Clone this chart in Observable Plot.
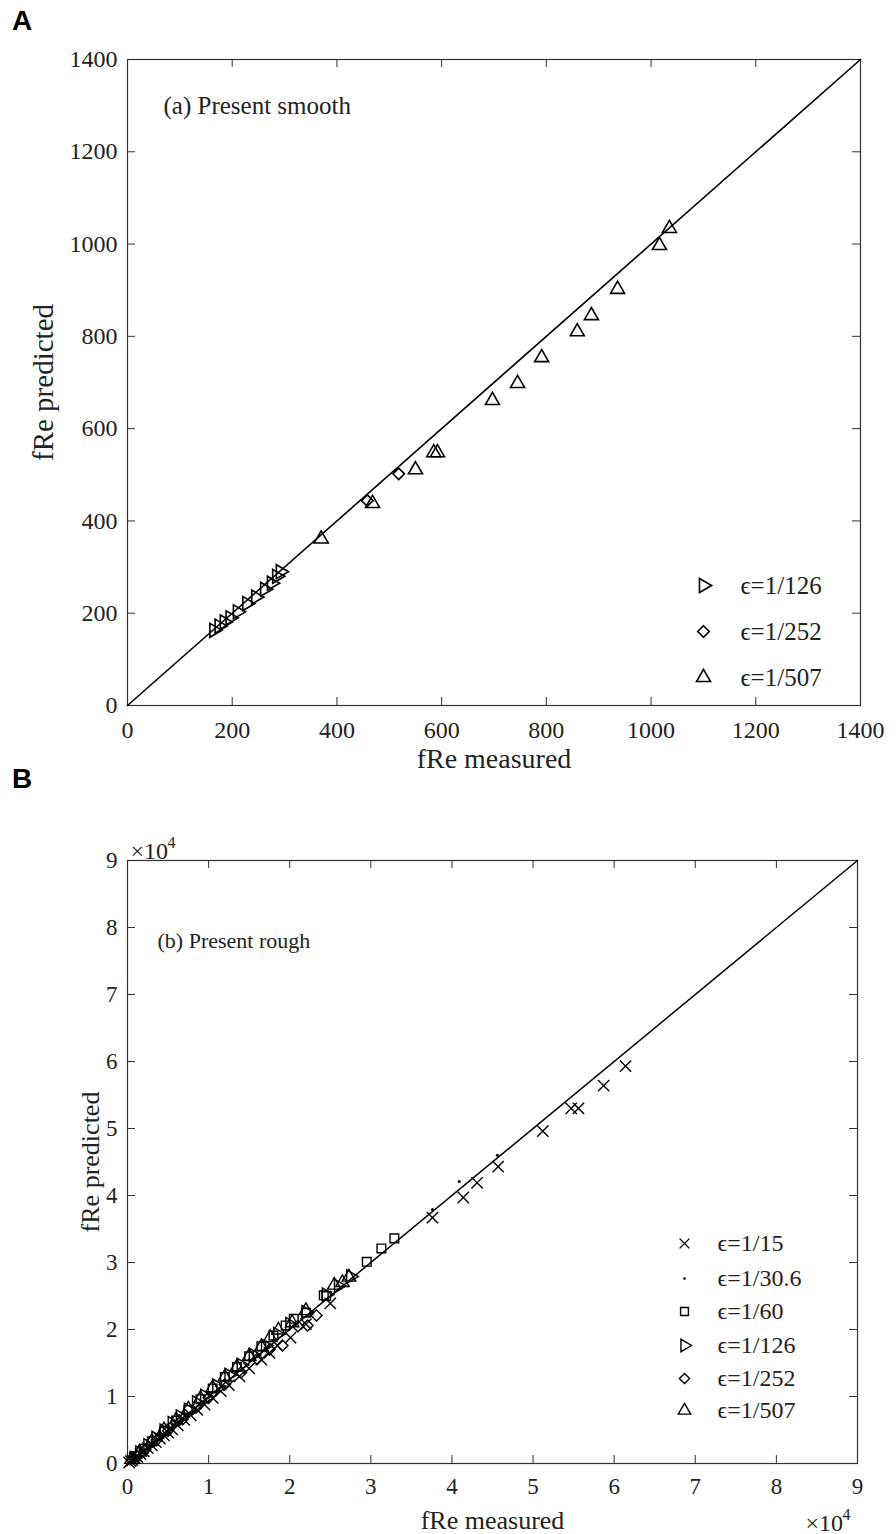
<!DOCTYPE html>
<html><head><meta charset="utf-8">
<script src="https://cdn.jsdelivr.net/npm/d3@7"></script>
<script src="https://cdn.jsdelivr.net/npm/@observablehq/plot@0.6"></script>
<style>
body{margin:0;background:#fff;}
#wrap{position:relative;width:896px;height:1534px;background:#fff;}
.panel{position:absolute;left:0;}
.lab{position:absolute;z-index:5;font-family:"Liberation Sans",Arial,sans-serif;font-weight:bold;font-size:28px;line-height:28px;color:#000;}
</style></head><body>
<div id="wrap">
<div id="pa" class="panel" style="top:0"></div>
<div id="pb" class="panel" style="top:780px"></div>
<div class="lab" style="left:12px;top:7px">A</div>
<div class="lab" style="left:12px;top:765px">B</div>
</div>
<script>
// ---------- Panel A data (smooth) ----------
const a126x = [165, 175, 185, 196, 210, 228, 245, 262, 275, 285, 292];
const a126y = [163, 172, 181, 190, 203, 221, 235, 252, 265, 280, 290];
const a252x = [458, 518];
const a252y = [444, 502];
const a507x = [370, 468, 550, 585, 592, 697, 745, 791, 859, 886, 936, 1016, 1035];
const a507y = [361, 438, 511, 548, 548, 661, 698, 754, 810, 845, 902, 997, 1034];
const ticksA = [0, 200, 400, 600, 800, 1000, 1200, 1400];
const diagA = [0, 1400];
const legendA = ["ϵ=1/126", "ϵ=1/252", "ϵ=1/507"];

// ---------- Panel B data (rough), raw fRe values ----------
const b15x = [200, 400, 600, 900, 1200, 1600, 2000, 2500, 3000, 3500, 4000, 4500, 5000, 5500, 6200, 7000, 7800, 8600, 9500, 10500, 11500, 12500, 13800, 15000, 16500, 17500, 18500, 20100, 22000, 25000, 37600, 41400, 43100, 45700, 51200, 54700, 55600, 58700, 61400];
const b15y = [150, 350, 500, 800, 1000, 1400, 1800, 2300, 2700, 3200, 3700, 4200, 4600, 5100, 5700, 6500, 7200, 8000, 8800, 9800, 10800, 11700, 13000, 14200, 15500, 16500, 17600, 18800, 20800, 23900, 36700, 39700, 41900, 44300, 49600, 53000, 53000, 56400, 59300];
const b30x = [1000, 3000, 6000, 10000, 15000, 20000, 25000, 37600, 40900, 45600];
const b30y = [1100, 3100, 6200, 10300, 15500, 20500, 25600, 37900, 42100, 46000];
const b60x = [1000, 2000, 3000, 4500, 6000, 7500, 9000, 10500, 12000, 13500, 15000, 16500, 18000, 19500, 20500, 22000, 24200, 24500, 29500, 31300, 32900];
const b60y = [1100, 2200, 3300, 4800, 6400, 8000, 9600, 11200, 12900, 14400, 16000, 17500, 19100, 20600, 21600, 22500, 25100, 25000, 30100, 32100, 33600];
const b126x = [800, 1500, 2500, 3500, 4500, 5500, 6500, 7500, 8500, 9500, 11000, 12500, 14000, 15500, 17000, 18500, 20000, 22000, 24500, 26000, 27500];
const b126y = [800, 1600, 2700, 3800, 4900, 6000, 7000, 8000, 9100, 10100, 11600, 13200, 14700, 16200, 17600, 19300, 20800, 22600, 25200, 26500, 27900];
const b252x = [1200, 2200, 3600, 5000, 6800, 8500, 10000, 12000, 14000, 16000, 17500, 19100, 21000, 22200, 23300];
const b252y = [1100, 2100, 3500, 4900, 6600, 8400, 9800, 11800, 13600, 15600, 17000, 17600, 20500, 20600, 22100];
const b507x = [500, 1500, 3000, 4500, 6000, 7500, 9000, 10500, 12000, 13500, 15000, 16500, 17600, 18600, 20300, 22000, 25500, 26500, 27300];
const b507y = [600, 1700, 3300, 5000, 6500, 8100, 9700, 11300, 12900, 14400, 16000, 17400, 18800, 19900, 21000, 22800, 26600, 27000, 27800];
const ticksB = [0, 10000, 20000, 30000, 40000, 50000, 60000, 70000, 80000, 90000];
const diagB = [0, 90000];
const legendB = ["ϵ=1/15", "ϵ=1/30.6", "ϵ=1/60", "ϵ=1/126", "ϵ=1/252", "ϵ=1/507"];

const zip = (xs, ys) => xs.map((x, i) => ({x, y: ys[i]}));
const serif = "Liberation Serif, 'Times New Roman', serif";
const axisCol = "#333";
const txtCol = "#222";

function boxTicks(ticks, W, H, len) {
  return [
    Plot.tickX(ticks, {x: d => d, insetTop: H - len, stroke: axisCol}),
    Plot.tickX(ticks, {x: d => d, insetBottom: H - len, stroke: axisCol}),
    Plot.tickY(ticks, {y: d => d, insetRight: W - len, stroke: axisCol}),
    Plot.tickY(ticks, {y: d => d, insetLeft: W - len, stroke: axisCol})
  ];
}
function label(t, opts) {
  return Plot.text([t], {text: d => d, lineAnchor: "middle", fill: txtCol, ...opts});
}

// ---------- Panel A ----------
{
  const mL = 127, mR = 36, mT = 59, mB = 75, H = 780, W = 896;
  const fw = W - mL - mR, fh = H - mT - mB;
  const legSym = [{symbol: "triangle", rotate: 90}, {symbol: "diamond2", rotate: 0}, {symbol: "triangle", rotate: 0}];
  const legRows = [526, 572, 618];
  const legMarks = [];
  legendA.forEach((t, i) => {
    legMarks.push(Plot.dot([0], {frameAnchor: "top-left", dx: 576, dy: legRows[i], symbol: legSym[i].symbol, rotate: legSym[i].rotate, r: 5.2, stroke: "#000", strokeWidth: 1.6, fill: "none"}));
    legMarks.push(label(t, {frameAnchor: "top-left", dx: 613, dy: legRows[i], textAnchor: "start", fontSize: 25}));
  });
  const chart = Plot.plot({
    width: W, height: H, marginLeft: mL, marginRight: mR, marginTop: mT, marginBottom: mB,
    style: {fontFamily: serif, background: "transparent", overflow: "visible"},
    x: {domain: [0, 1400]}, y: {domain: [0, 1400]},
    marks: [
      Plot.frame({stroke: axisCol, strokeWidth: 1.2}),
      ...boxTicks(ticksA, fw, fh, 8),
      Plot.axisX(ticksA, {tickSize: 0, tickPadding: 15, fontSize: 24, fill: txtCol, label: null, tickFormat: d => String(d)}),
      Plot.axisY(ticksA, {tickSize: 0, tickPadding: 10, fontSize: 24, fill: txtCol, label: null, tickFormat: d => String(d)}),
      Plot.line(zip(diagA, diagA), {x: "x", y: "y", stroke: "#000", strokeWidth: 1.6}),
      Plot.dot(zip(a126x, a126y), {x: "x", y: "y", symbol: "triangle", rotate: 90, r: 5.2, stroke: "#000", strokeWidth: 1.6, fill: "none"}),
      Plot.dot(zip(a252x, a252y), {x: "x", y: "y", symbol: "diamond2", r: 5.2, stroke: "#000", strokeWidth: 1.6, fill: "none"}),
      Plot.dot(zip(a507x, a507y), {x: "x", y: "y", symbol: "triangle", r: 5.2, stroke: "#000", strokeWidth: 1.6, fill: "none"}),
      label("(a) Present smooth", {frameAnchor: "top-left", dx: 36, dy: 46, textAnchor: "start", fontSize: 25}),
      label("fRe measured", {frameAnchor: "bottom", dy: 54, textAnchor: "middle", fontSize: 28}),
      label("fRe predicted", {frameAnchor: "left", dx: -84, rotate: -90, textAnchor: "middle", fontSize: 29}),
      ...legMarks
    ]
  });
  document.getElementById("pa").appendChild(chart);
}

// ---------- Panel B ----------
{
  const mL = 127, mR = 39, mT = 80, mB = 71, H = 754, W = 896;
  const fw = W - mL - mR, fh = H - mT - mB;
  const st = {stroke: "#000", strokeWidth: 1.4, fill: "none"};
  const legSym = [
    {symbol: "times", rotate: 0, r: 4.5},
    {symbol: "circle", rotate: 0, r: 1.3},
    {symbol: "square2", rotate: 0, r: 5},
    {symbol: "triangle", rotate: 90, r: 4.6},
    {symbol: "diamond2", rotate: 0, r: 4.6},
    {symbol: "triangle", rotate: 0, r: 4.6}
  ];
  const legRows = [383, 418, 451, 485, 518, 550];
  const legMarks = [];
  legendB.forEach((t, i) => {
    const s = legSym[i];
    const sty = s.symbol === "circle" ? {fill: "#000", stroke: "none"} : st;
    legMarks.push(Plot.dot([0], {frameAnchor: "top-left", dx: 557, dy: legRows[i], symbol: s.symbol, rotate: s.rotate, r: s.r, ...sty}));
    legMarks.push(label(t, {frameAnchor: "top-left", dx: 590, dy: legRows[i], textAnchor: "start", fontSize: 24}));
  });
  const chart = Plot.plot({
    width: W, height: H, marginLeft: mL, marginRight: mR, marginTop: mT, marginBottom: mB,
    style: {fontFamily: serif, background: "transparent", overflow: "visible"},
    x: {domain: [0, 90000]}, y: {domain: [0, 90000]},
    marks: [
      Plot.frame({stroke: axisCol, strokeWidth: 1.2}),
      ...boxTicks(ticksB, fw, fh, 8),
      Plot.axisX(ticksB, {tickSize: 0, tickPadding: 14, fontSize: 23, fill: txtCol, label: null, tickFormat: d => String(d / 10000)}),
      Plot.axisY(ticksB, {tickSize: 0, tickPadding: 10, fontSize: 23, fill: txtCol, label: null, tickFormat: d => String(d / 10000)}),
      Plot.line(zip(diagB, diagB), {x: "x", y: "y", stroke: "#000", strokeWidth: 1.5}),
      Plot.dot(zip(b60x, b60y), {x: "x", y: "y", symbol: "square2", r: 5.5, ...st}),
      Plot.dot(zip(b126x, b126y), {x: "x", y: "y", symbol: "triangle", rotate: 90, r: 5, ...st}),
      Plot.dot(zip(b252x, b252y), {x: "x", y: "y", symbol: "diamond2", r: 5, ...st}),
      Plot.dot(zip(b507x, b507y), {x: "x", y: "y", symbol: "triangle", r: 5, ...st}),
      Plot.dot(zip(b15x, b15y), {x: "x", y: "y", symbol: "times", r: 5.2, ...st}),
      Plot.dot(zip(b30x, b30y), {x: "x", y: "y", r: 1.5, fill: "#000", stroke: "none"}),
      label("(b) Present rough", {frameAnchor: "top-left", dx: 30, dy: 80, textAnchor: "start", fontSize: 22}),
      label("fRe measured", {frameAnchor: "bottom", dy: 57, textAnchor: "middle", fontSize: 26}),
      label("fRe predicted", {frameAnchor: "left", dx: -37, rotate: -90, textAnchor: "middle", fontSize: 26}),
      label("×10", {frameAnchor: "top-left", dx: 3, dy: -9, textAnchor: "start", fontSize: 24}),
      label("4", {frameAnchor: "top-left", dx: 40, dy: -18, textAnchor: "start", fontSize: 16}),
      label("×10", {frameAnchor: "bottom-right", dx: -52, dy: 60, textAnchor: "start", fontSize: 24}),
      label("4", {frameAnchor: "bottom-right", dx: -15, dy: 51, textAnchor: "start", fontSize: 16}),
      ...legMarks
    ]
  });
  document.getElementById("pb").appendChild(chart);
}
</script>
</body></html>
